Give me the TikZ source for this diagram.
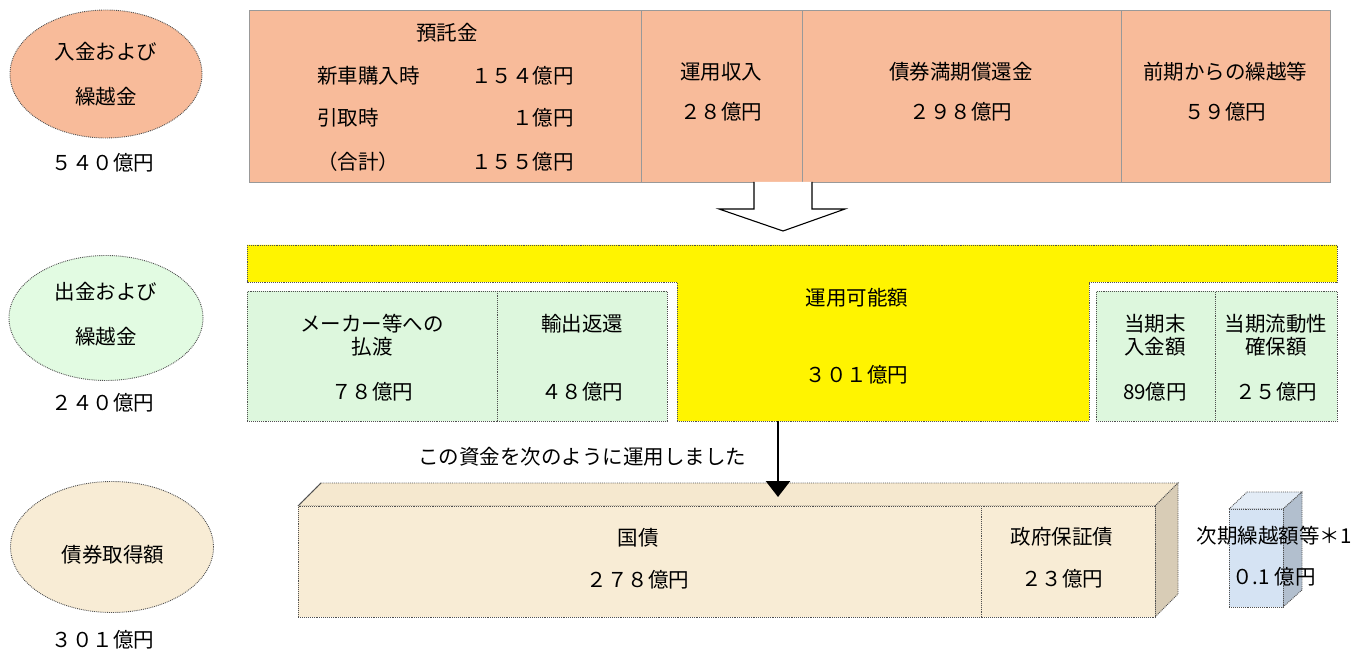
\documentclass[tikz,border=0pt]{standalone}
\usepackage{fontspec}
\newfontfamily\jp{Noto Sans CJK JP}
\usetikzlibrary{shapes.geometric,arrows.meta}
\definecolor{orangefill}{HTML}{F8BB9A}
\definecolor{greenfill}{HTML}{DDF7DD}
\definecolor{greenell}{HTML}{E2FBE2}
\definecolor{yellowfill}{HTML}{FFF400}
\definecolor{beigefront}{HTML}{F8ECD5}
\definecolor{beigetop}{HTML}{F5E8CF}
\definecolor{beigeside}{HTML}{D8CCB6}
\definecolor{bluefront}{HTML}{D5E3F3}
\definecolor{bluetop}{HTML}{E3ECF6}
\definecolor{blueside}{HTML}{B2BFCE}
\definecolor{edge}{HTML}{505050}
\begin{document}
\begin{tikzpicture}[x=1pt,y=-1pt,
  txt/.style={inner sep=0,font=\jp\fontsize{20.5}{23}\selectfont},
  dotb/.style={draw=edge,densely dotted,line width=0.9pt},
  ell/.style={ellipse,dotb,inner sep=0},
  topcell/.style={draw=gray!80,line width=0.8pt,fill=orangefill,anchor=north west,inner sep=0},
  greencell/.style={dotb,fill=greenfill,anchor=north west,inner sep=0},
]
\useasboundingbox (0,0) rectangle (1354,652);

% ---------- ellipses ----------
\node[ell,fill=orangefill,minimum width=192,minimum height=128] (e1) at (106,74) {};
\node[txt] (e1a) at (106,52) {入金および};
\node[txt] (e1b) at (106,97) {繰越金};
\node[txt] (e1v) at (103,163) {５４０億円};

\node[ell,fill=greenell,minimum width=194,minimum height=125] (e2) at (106,318) {};
\node[txt] (e2a) at (106,292) {出金および};
\node[txt] (e2b) at (106,337) {繰越金};
\node[txt] (e2v) at (103,403) {２４０億円};

\node[ell,fill=beigefront,minimum width=203,minimum height=131] (e3) at (112,547) {};
\node[txt] (e3a) at (113,555) {債券取得額};
\node[txt] (e3v) at (103,640) {３０１億円};

% ---------- top box ----------
\node[topcell,minimum width=392,minimum height=172] (c1) at (249,10) {};
\node[topcell,minimum width=161,minimum height=172] (c2) at (641,10) {};
\node[topcell,minimum width=319,minimum height=172] (c3) at (802,10) {};
\node[topcell,minimum width=209,minimum height=172] (c4) at (1121,10) {};

\node[txt] (t1) at (447,33) {預託金};
\node[txt,anchor=west] (t2) at (317,76) {新車購入時};
\node[txt,anchor=west] (t3) at (317,118) {引取時};
\node[txt,anchor=west] (t4) at (317,162) {（合計）};
\node[txt,anchor=east] (t5) at (574,76) {１５４億円};
\node[txt,anchor=east] (t6) at (574,118) {１億円};
\node[txt,anchor=east] (t7) at (574,162) {１５５億円};

\node[txt] (t8) at (721,72) {運用収入};
\node[txt] (t9) at (721,112) {２８億円};
\node[txt] (t10) at (961,72) {債券満期償還金};
\node[txt] (t11) at (961,112) {２９８億円};
\node[txt] (t12) at (1225,72) {前期からの繰越等};
\node[txt] (t13) at (1225,112) {５９億円};

% hollow arrow
\draw[fill=white,line width=1.1pt] (754,182) -- (754,209) -- (719,209) -- (783,231)
  -- (845,209) -- (812,209) -- (812,182);

% ---------- yellow T ----------
\draw[dotb,fill=yellowfill] (247,245) -- (1337,245) -- (1337,282) -- (1089,282)
  -- (1089,421) -- (677,421) -- (677,282) -- (247,282) -- cycle;
\node[txt] (y1) at (857,298) {運用可能額};
\node[txt] (y2) at (857,375) {３０１億円};
\coordinate (stemb) at (778,421);

% ---------- green boxes ----------
\node[greencell,minimum width=250,minimum height=130] (g1) at (247,291) {};
\node[greencell,minimum width=170,minimum height=130] (g2) at (497,291) {};
\node[greencell,minimum width=119,minimum height=130] (g3) at (1096,291) {};
\node[greencell,minimum width=122,minimum height=130] (g4) at (1215,291) {};

\node[txt] (g1a) at (372,324) {メーカー等への};
\node[txt] (g1b) at (372,347) {払渡};
\node[txt] (g1c) at (372,392) {７８億円};
\node[txt] (g2a) at (582,324) {輸出返還};
\node[txt] (g2c) at (582,392) {４８億円};
\node[txt] (g3a) at (1155,324) {当期末};
\node[txt] (g3b) at (1155,347) {入金額};
\node[txt] (g3c) at (1155,392) {89億円};
\node[txt] (g4a) at (1276,324) {当期流動性};
\node[txt] (g4b) at (1276,347) {確保額};
\node[txt] (g4c) at (1276,392) {２５億円};

% ---------- caption ----------
\node[txt] (cap) at (582,457) {この資金を次のように運用しました};

% ---------- bond 3D box ----------
\draw[dotb,fill=beigetop] (298,506) -- (321,483) -- (1178,483) -- (1155,506) -- cycle;
\draw[dotb,fill=beigeside] (1155,506) -- (1178,483) -- (1178,594) -- (1155,617) -- cycle;
\node[dotb,fill=beigefront,anchor=north west,inner sep=0,minimum width=857,minimum height=111] (bond) at (298,506) {};
\draw[dotb] (981,506) -- (981,617);
\draw[edge,line width=0.8pt] (298,506) -- (321,483);
\coordinate (bondtop) at (778,497);

\node[txt] (b1) at (638,538) {国債};
\node[txt] (b2) at (638,580) {２７８億円};
\node[txt] (b3) at (1062,537) {政府保証債};
\node[txt] (b4) at (1062,579) {２３億円};

\draw[line width=2.6pt,-{Triangle[length=16,width=24]}] (stemb) -- (bondtop);

% ---------- small blue box ----------
\draw[dotb,fill=bluetop] (1229,509) -- (1247,492) -- (1302,492) -- (1283,509) -- cycle;
\draw[dotb,fill=blueside] (1283,509) -- (1302,492) -- (1302,590) -- (1283,607) -- cycle;
\node[dotb,fill=bluefront,anchor=north west,inner sep=0,minimum width=54,minimum height=98] (small) at (1229,509) {};
\node[txt] (s1) at (1274,536) {次期繰越額等＊1};
\node[txt] (s2) at (1274,577) {０.1 億円};
\end{tikzpicture}
\end{document}
